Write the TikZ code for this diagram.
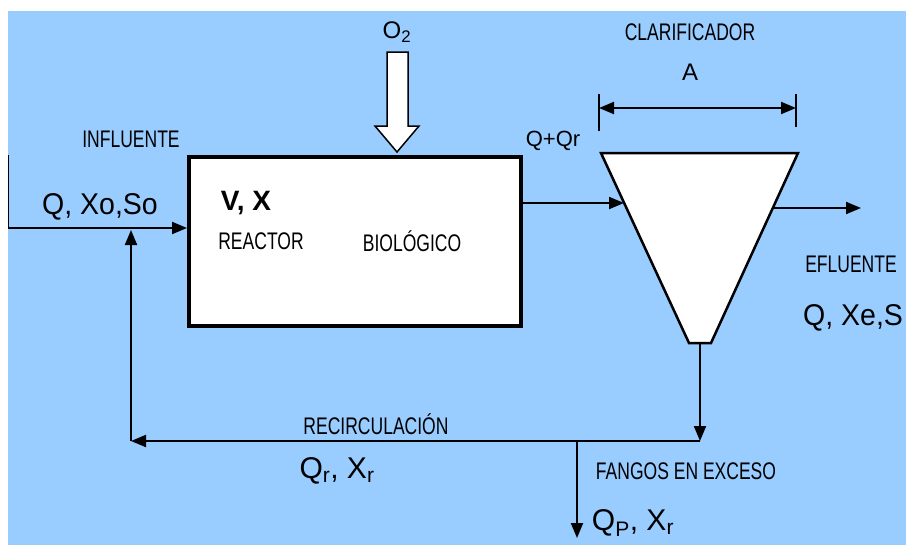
\documentclass[tikz,border=0pt]{standalone}
\usepackage{fontspec}
\setmainfont{Liberation Sans}
\usetikzlibrary{arrows.meta}
\newcommand{\sqz}[1]{\scalebox{0.73}[1]{#1}}
\definecolor{bgblue}{HTML}{99CCFF}
\begin{document}
\begin{tikzpicture}[x=1pt,y=-1pt,
  conn/.style={line width=2pt, -{Triangle[length=15pt,width=12pt]}},
  lab/.style={font=\fontsize{24}{26}\selectfont, inner sep=0pt},
  big/.style={font=\fontsize{30}{32}\selectfont, inner sep=0pt},
]
\useasboundingbox (0,0) rectangle (906,547);
\fill[bgblue] (8,11) rectangle (906,545);

% reactor
\node[draw, line width=4pt, fill=white, minimum width=332pt, minimum height=169pt, inner sep=0pt] (reactor) at (355,241.5) {};

% O2 block arrow
\draw[line width=1.5pt, fill=white, line join=miter] (387,52) -- (408,52) -- (408,126) -- (419,126) -- (397,152) -- (375,126) -- (387,126) -- cycle;
\node[lab] (o2) at (397,32) {O\textsubscript{2}};

% clarifier
\coordinate (tl) at (601,153);
\coordinate (tr) at (798,153);
\coordinate (br) at (711,343);
\coordinate (bl) at (689,343);
\coordinate (bc) at (700,343);
\draw[line width=2.5pt, fill=white, line join=miter] (tl) -- (tr) -- (br) -- (bl) -- cycle;

% dimension A
\coordinate (dl) at (599,108);
\coordinate (dr) at (796,108);
\draw[line width=1.5pt] (599,94) -- (599,131);
\draw[line width=1.5pt] (796,94) -- (796,127);
\draw[line width=2pt, {Triangle[length=15pt,width=12pt]}-{Triangle[length=15pt,width=12pt]}] (dl) -- (dr);

% influent
\coordinate (in0) at (8,228);
\draw[line width=1pt] (8,155) -- (in0);
\draw[conn] (in0) -- (in0 -| reactor.west);

% reactor -> clarifier
\coordinate (cin) at (624,203);
\draw[conn] (reactor.east |- cin) -- (cin);

% effluent
\coordinate (cout) at (773,208);
\coordinate (eff) at (861,208);
\draw[conn] (cout) -- (eff);

% underflow and recirculation
\coordinate (jn) at (700,441);
\coordinate (rc) at (131,441);
\coordinate (rt) at (131,230);
\draw[conn] (bc) -- (jn);
\draw[conn] (jn) -- (rc);
\draw[conn] (rc) -- (rt);

% waste sludge
\coordinate (wd) at (577,441);
\coordinate (we) at (577,538);
\draw[conn] (wd) -- (we);

% labels
\node[lab] (infl) at (131,139) {\sqz{INFLUENTE}};
\node[big] (qin) at (100,207) {\scalebox{0.95}[1]{Q, Xo,So}};
\node[font=\bfseries\fontsize{28}{30}\selectfont, inner sep=0pt] (vx) at (246,203) {V, X};
\node[lab] (reac) at (261,241) {\sqz{REACTOR}};
\node[lab] (bio) at (412,241) {\sqz{BIOLÓGICO}};
\node[font=\fontsize{22}{24}\selectfont, inner sep=0pt] (qqr) at (553,141) {Q+Qr};
\node[lab] (clar) at (690,32) {\sqz{CLARIFICADOR}};
\node[lab] (alab) at (690,72) {A};
\node[lab] (efl) at (851,264) {\sqz{EFLUENTE}};
\node[big, anchor=west] (qout) at (803,318) {\scalebox{0.95}[1]{Q, Xe,S}};
\node[lab] (recl) at (376,424) {\sqz{RECIRCULACIÓN}};
\node[big] (qr) at (337,471) {Q\textsubscript{r}, X\textsubscript{r}};
\node[lab] (fang) at (686,471) {\sqz{FANGOS EN EXCESO}};
\node[big] (qp) at (633,523) {Q\textsubscript{P}, X\textsubscript{r}};
\end{tikzpicture}
\end{document}
